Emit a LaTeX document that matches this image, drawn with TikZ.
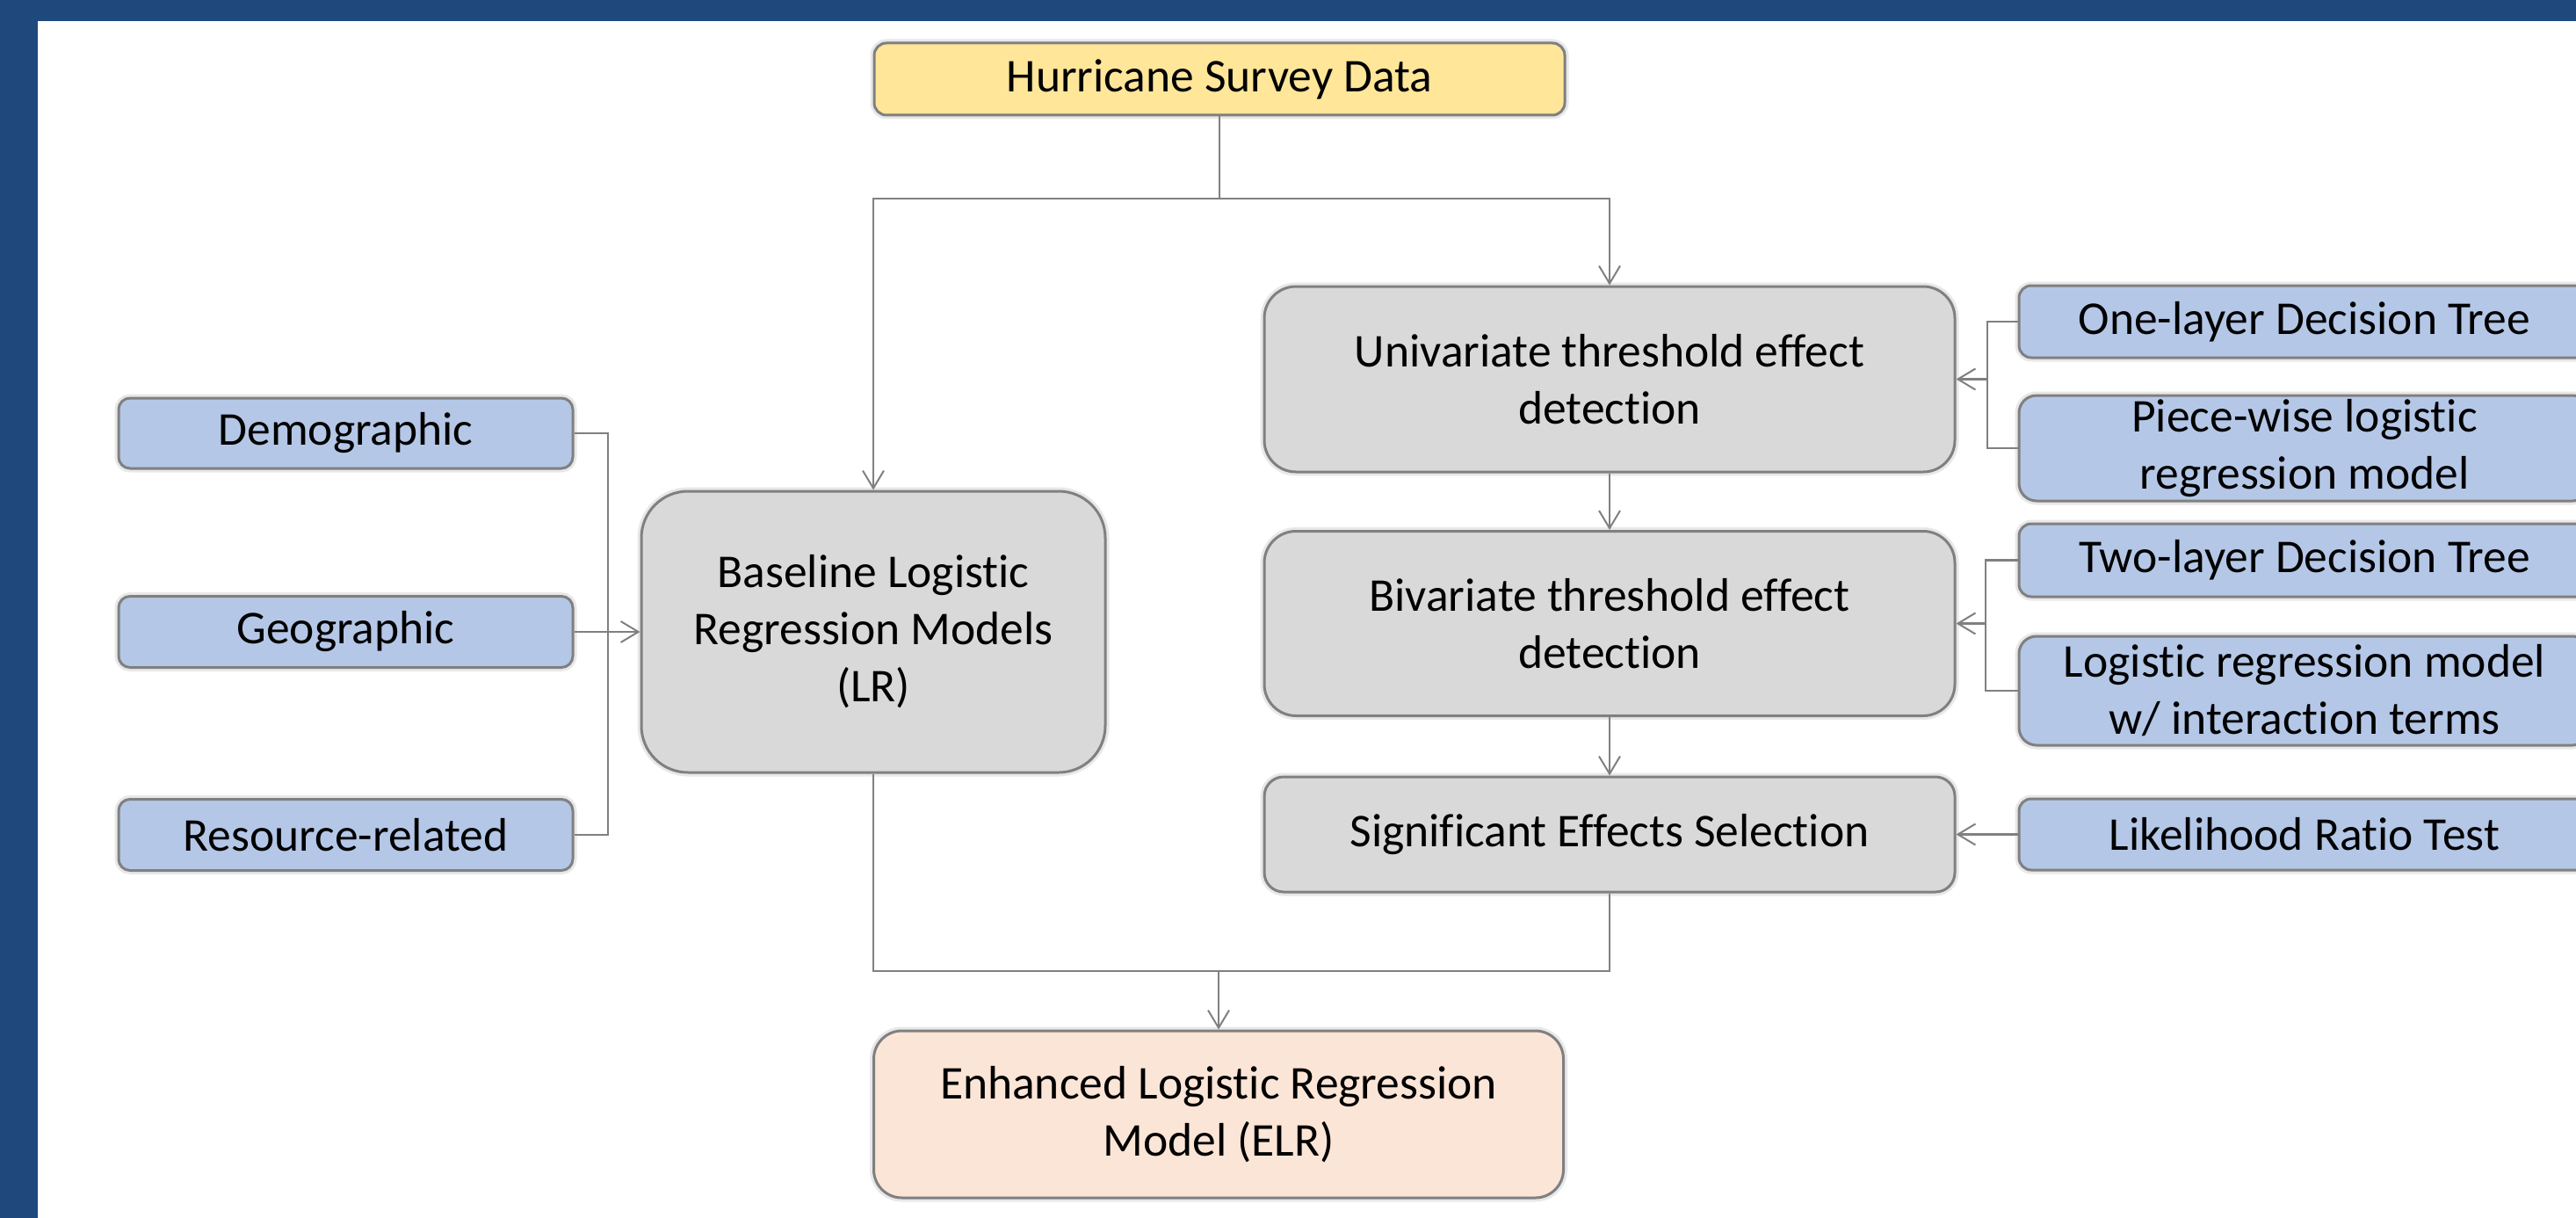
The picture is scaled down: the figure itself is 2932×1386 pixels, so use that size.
\documentclass[tikz,border=0pt]{standalone}
\usepackage{fontspec}
\setmainfont{Carlito}[Ligatures={NoCommon}]
\usetikzlibrary{arrows.meta}
\definecolor{frameblue}{RGB}{31,73,125}
\definecolor{boxyellow}{RGB}{255,230,153}
\definecolor{boxgray}{RGB}{217,217,217}
\definecolor{boxblue}{RGB}{180,199,231}
\definecolor{boxpeach}{RGB}{251,229,214}
\definecolor{edgegray}{RGB}{128,128,128}
\definecolor{linegray}{RGB}{128,128,128}
\begin{document}
\begin{tikzpicture}[x=1pt,y=-1pt,
  box/.style={draw=edgegray, line width=3pt, rectangle, inner sep=0pt, align=center,
    font=\fontsize{53.5pt}{65pt}\selectfont, text=black,
    preaction={draw=black!9, line width=9pt}},
  yellowbox/.style={box, fill=boxyellow},
  graybox/.style={box, fill=boxgray},
  bluebox/.style={box, fill=boxblue},
  peachbox/.style={box, fill=boxpeach},
  conn/.style={draw=linegray, line width=2.5pt},
  arr/.style={conn, -{Straight Barb[length=20pt, width=24pt, line width=2pt]}}
]
\useasboundingbox (0,0) rectangle (2932,1386);
\fill[frameblue] (0,0) rectangle (2932,1386);
\fill[white] (43,24) rectangle (2932,1386);

% top
\node[yellowbox, minimum width=786pt, minimum height=82pt, rounded corners=14pt] (hurr) at (1388,90) {Hurricane Survey Data};

% left inputs
\node[bluebox, minimum width=517pt, minimum height=80pt, rounded corners=13pt] (demo) at (393.5,493) {Demographic};
\node[bluebox, minimum width=517pt, minimum height=81pt, rounded corners=13pt] (geo) at (393.5,719) {Geographic};
\node[bluebox, minimum width=517pt, minimum height=81pt, rounded corners=13pt] (res) at (393.5,950) {Resource-related};

% baseline
\node[graybox, minimum width=528pt, minimum height=320pt, rounded corners=53pt] (base) at (994,719) {Baseline Logistic\\Regression Models\\(LR)};

% middle column
\node[graybox, minimum width=786pt, minimum height=211pt, rounded corners=36pt] (uni) at (1832,431.5) {Univariate threshold effect\\detection};
\node[graybox, minimum width=786pt, minimum height=210pt, rounded corners=36pt] (bi) at (1832,709.5) {Bivariate threshold effect\\detection};
\node[graybox, minimum width=786pt, minimum height=131pt, rounded corners=22pt] (sig) at (1832,949.5) {Significant Effects Selection};

% right column
\node[bluebox, minimum width=650pt, minimum height=82pt, rounded corners=14pt] (one) at (2623,366) {One-layer Decision Tree};
\node[bluebox, minimum width=650pt, minimum height=120pt, rounded corners=20pt] (piece) at (2623,510) {Piece-wise logistic\\regression model};
\node[bluebox, minimum width=650pt, minimum height=83pt, rounded corners=14pt] (two) at (2623,637.5) {Two-layer Decision Tree};
\node[bluebox, minimum width=650pt, minimum height=124pt, rounded corners=20pt] (logi) at (2623,786) {Logistic regression model\\w/ interaction terms};
\node[bluebox, minimum width=650pt, minimum height=81pt, rounded corners=14pt] (lrt) at (2623,949.5) {Likelihood Ratio Test};

% bottom
\node[peachbox, minimum width=785pt, minimum height=190pt, rounded corners=32pt] (elr) at (1387,1268) {Enhanced Logistic Regression\\Model (ELR)};

% junction coordinates
\coordinate (j1) at (1388,226);
\coordinate (lb) at (692,719);
\coordinate (rb1) at (2262,431.5);
\coordinate (rb2) at (2260,709.5);
\coordinate (j2) at (1387,1105);

% connectors
\draw[conn] (hurr.south) -- (j1);
\draw[arr] (j1) -| (base.north);
\draw[arr] (j1) -| (uni.north);

\draw[conn] (demo.east) -| (lb);
\draw[conn] (res.east) -| (lb);
\draw[arr] (geo.east) -- (base.west);

\draw[conn] (one.west) -| (rb1);
\draw[conn] (piece.west) -| (rb1);
\draw[arr] (rb1) -- (uni.east);

\draw[conn] (two.west) -| (rb2);
\draw[conn] (logi.west) -| (rb2);
\draw[arr] (rb2) -- (bi.east);

\draw[arr] (lrt.west) -- (sig.east);

\draw[arr] (uni.south) -- (bi.north);
\draw[arr] (bi.south) -- (sig.north);

\draw[conn] (base.south) |- (j2);
\draw[conn] (sig.south) |- (j2);
\draw[arr] (j2) -- (elr.north);
\end{tikzpicture}
\end{document}
